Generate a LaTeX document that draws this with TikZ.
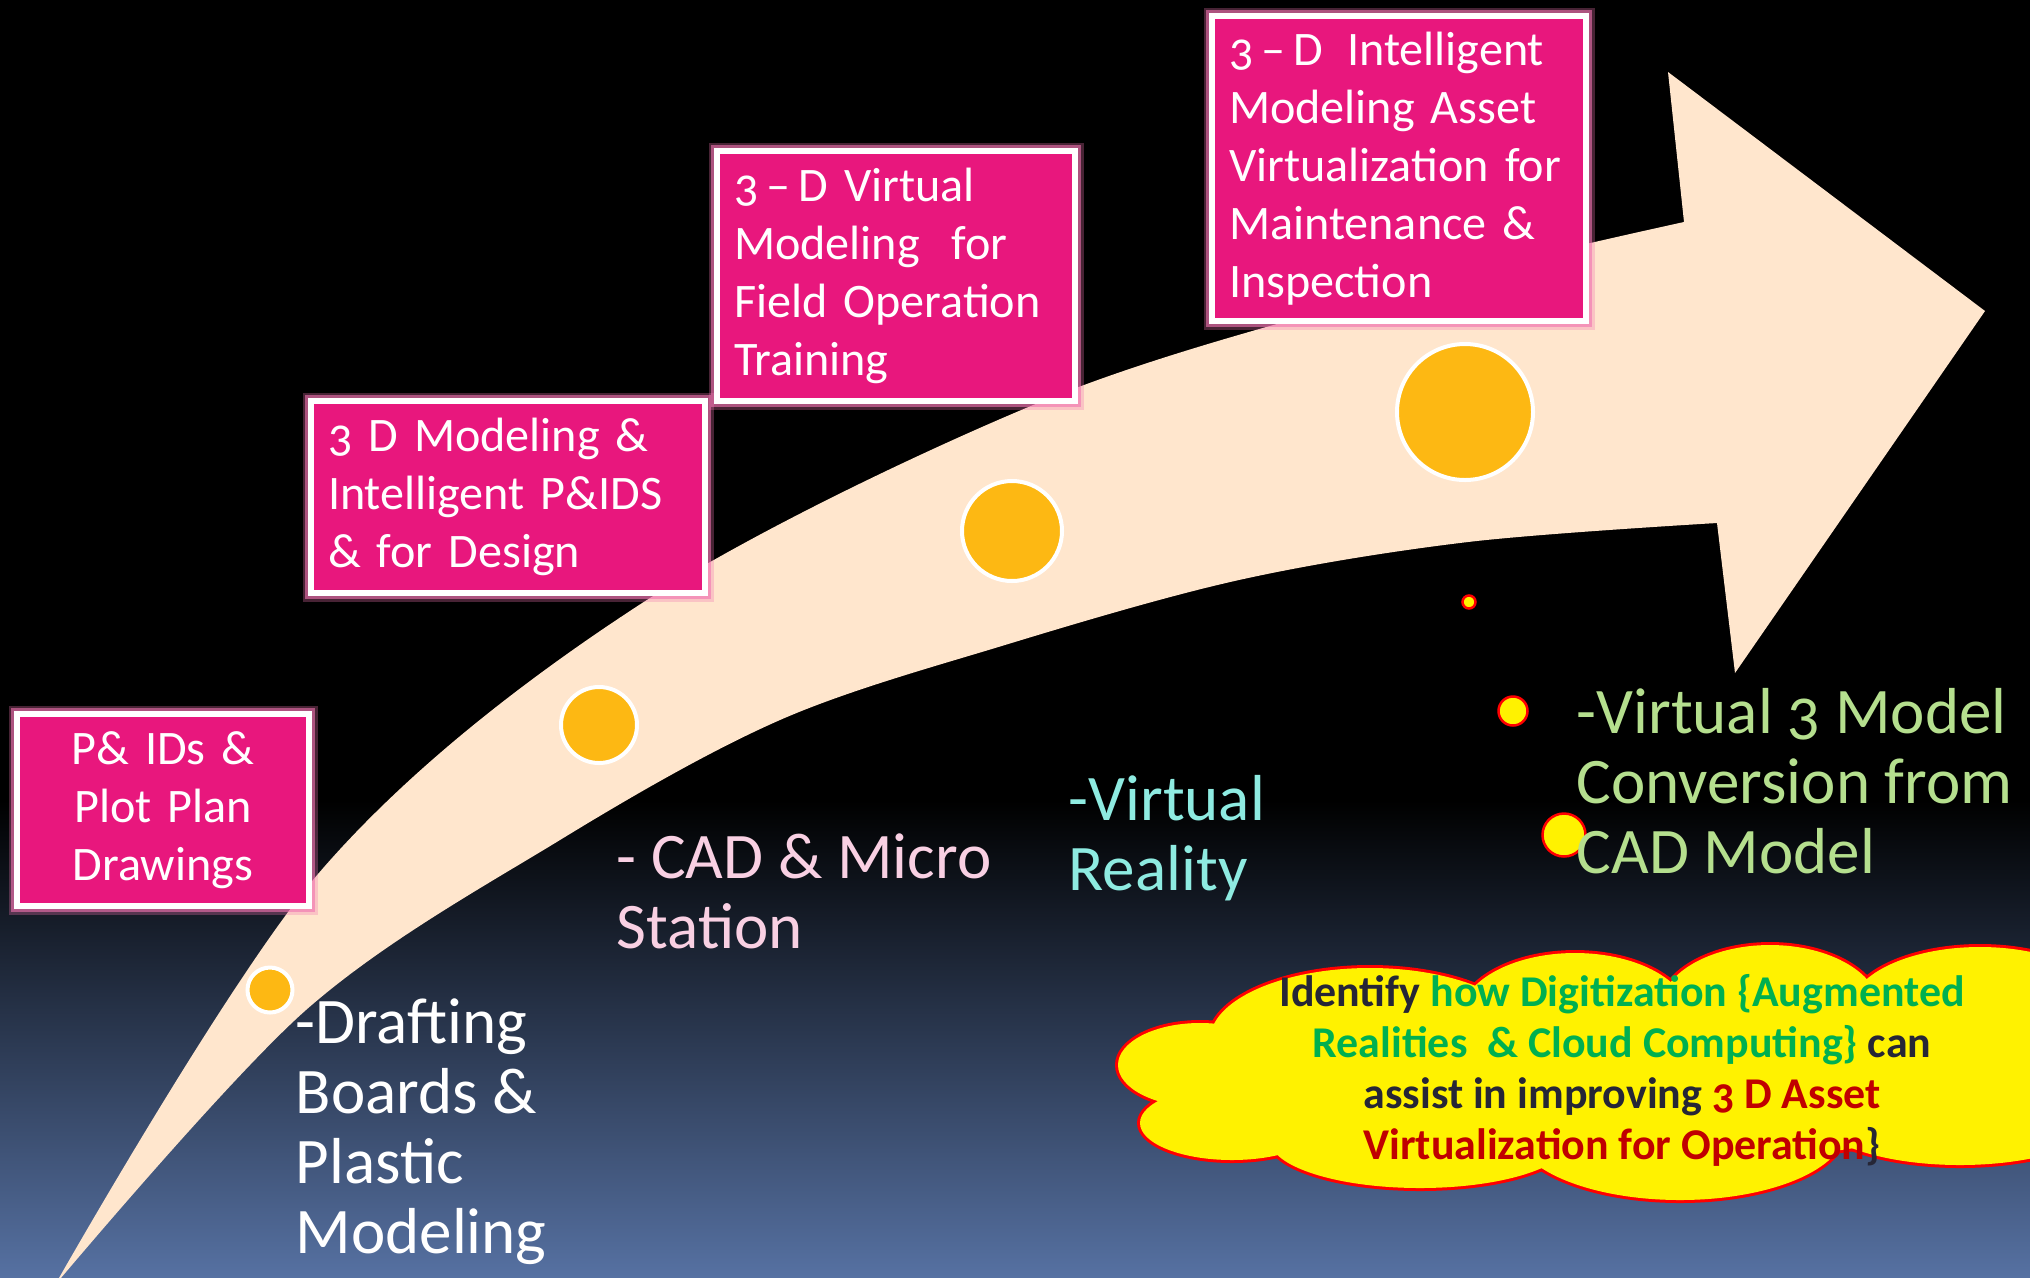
\documentclass[tikz,border=0pt]{standalone}
\usepackage{fontspec}
\setmainfont{Carlito}[Numbers=OldStyle]
\definecolor{boxpink}{HTML}{E8177D}
\definecolor{arrowcream}{HTML}{FFE6CD}
\definecolor{dotorange}{HTML}{FDB813}
\definecolor{bgblue}{HTML}{5671A2}
\definecolor{cadpink}{HTML}{F9D0E3}
\definecolor{vrcyan}{HTML}{8EEBE1}
\definecolor{convgreen}{HTML}{B5DF8E}
\definecolor{cloudgreen}{HTML}{00B050}
\definecolor{cloudred}{HTML}{C00000}
\definecolor{clouddark}{HTML}{262636}
\hyphenpenalty=10000

\begin{document}
\begin{tikzpicture}[x=0.1mm, y=-0.1mm,
    stagebox/.style={draw=white, line width=0.6mm, fill=boxpink, text=white, anchor=north west,
      inner xsep=1.7mm, inner ysep=0mm, align=left, font=\fontsize{13.7}{16.5}\selectfont,
      preaction={draw=boxpink!60!white, line width=1.7mm, opacity=0.3},
      preaction={draw=boxpink!60!white, line width=1.2mm, opacity=0.6}},
    stagedot/.style={circle, draw=white, line width=0.4mm, fill=dotorange, inner sep=0pt},
    reddot/.style={circle, draw=red, line width=0.25mm, fill=yellow, inner sep=0pt},
    toollabel/.style={anchor=north west, inner sep=0pt, align=left, font=\fontsize{18.5}{19.9}\selectfont}]
  \useasboundingbox (0,0) rectangle (2030,1277);
  \clip (0,0) rectangle (2030,1277);
  % background
  \fill[black] (0,0) rectangle (2030,1277);
  \shade[top color=black, bottom color=bgblue] (0,800) rectangle (2030,1277);
  % curved arrow
  \fill[arrowcream] plot[smooth, tension=0.55] coordinates {(55,1285) (318,874) (636,607) (1038,403) (1400,290) (1684,222)}
    -- (1668,72) -- (1985,311) -- (1735,673)
    -- plot[smooth, tension=0.55] coordinates {(1717,523) (1468,542) (1239,580) (1005,645) (780,720) (560,840) (306,1010) (55,1285)} -- cycle;

  % stage boxes
  \node[stagebox, align=center, text width=25.8mm, minimum height=19.2mm] (pidbox) at (14,711) {P\& IDs \&\\Plot Plan\\Drawings};
  \node[stagebox, text width=36mm, minimum height=19.2mm] (designbox) at (308,398) {3 D Modeling \&\\Intelligent P\&IDS\\\& for Design};
  \node[stagebox, text width=32.4mm, minimum height=25mm] (trainbox) at (714,148) {3\,--\,D Virtual\\Modeling \ for\\Field Operation\\Training};
  \node[stagebox, text width=34mm, minimum height=30.5mm] (inspectbox) at (1209,13) {3\,--\,D\enspace Intelligent\\Modeling Asset\\Virtualization for\\Maintenance \&\\Inspection};

  % dots on the arrow
  \foreach \nm/\px/\py/\d in {stage1/270/990/4.5, stage2/599/725/7.6, stage3/1012/531/10, stage4/1465/412/13.6}
    \node[stagedot, minimum size=\d mm] (\nm) at (\px,\py) {};
  \foreach \nm/\px/\py/\d in {dot1/1469/602/1.3, dot2/1513/711/2.9, dot3/1564/835/4.3}
    \node[reddot, minimum size=\d mm] (\nm) at (\px,\py) {};

  % tool labels
  \node[toollabel, text=white] (drafting) at (295,998) {-Drafting\\Boards \&\\Plastic\\Modeling};
  \node[toollabel, text=cadpink] (cadlbl) at (616,833) {- CAD \& Micro\\Station};
  \node[toollabel, text=vrcyan] (vrlbl) at (1068,775) {-Virtual\\Reality};
  \node[toollabel, text=convgreen] (convlbl) at (1576,688) {-Virtual 3 Model\\Conversion from\\CAD Model};

  % cloud: red outline of the puffs, then yellow fill on top
  \foreach \cx/\cy/\rx/\ry in {1200/1065/82/42, 1232/1123/92/37, 1420/1140/150/48, 1680/1130/165/70,
      1960/1110/150/55, 2050/1040/100/80, 1980/1010/130/63, 1770/1010/110/65, 1575/1018/115/65,
      1370/1040/160/72, 1620/1075/400/90}
    \draw[red, line width=0.6mm] (\cx,\cy) ellipse[x radius=\rx, y radius=\ry];
  \foreach \cx/\cy/\rx/\ry in {1200/1065/82/42, 1232/1123/92/37, 1420/1140/150/48, 1680/1130/165/70,
      1960/1110/150/55, 2050/1040/100/80, 1980/1010/130/63, 1770/1010/110/65, 1575/1018/115/65,
      1370/1040/160/72, 1620/1075/400/90}
    \fill[yellow] (\cx,\cy) ellipse[x radius=\rx, y radius=\ry];
  \node[font=\bfseries\fontsize{12.5}{14.5}\selectfont, align=center, text=clouddark] (cloudtxt) at (1622,1070)
    {Identify \textcolor{cloudgreen}{how Digitization \{Augmented}\\
     \textcolor{cloudgreen}{Realities \ \& Cloud Computing\}} can\\
     assist in improving \textcolor{cloudred}{3 D Asset}\\
     \textcolor{cloudred}{Virtualization for Operation}\}};
\end{tikzpicture}
\end{document}
